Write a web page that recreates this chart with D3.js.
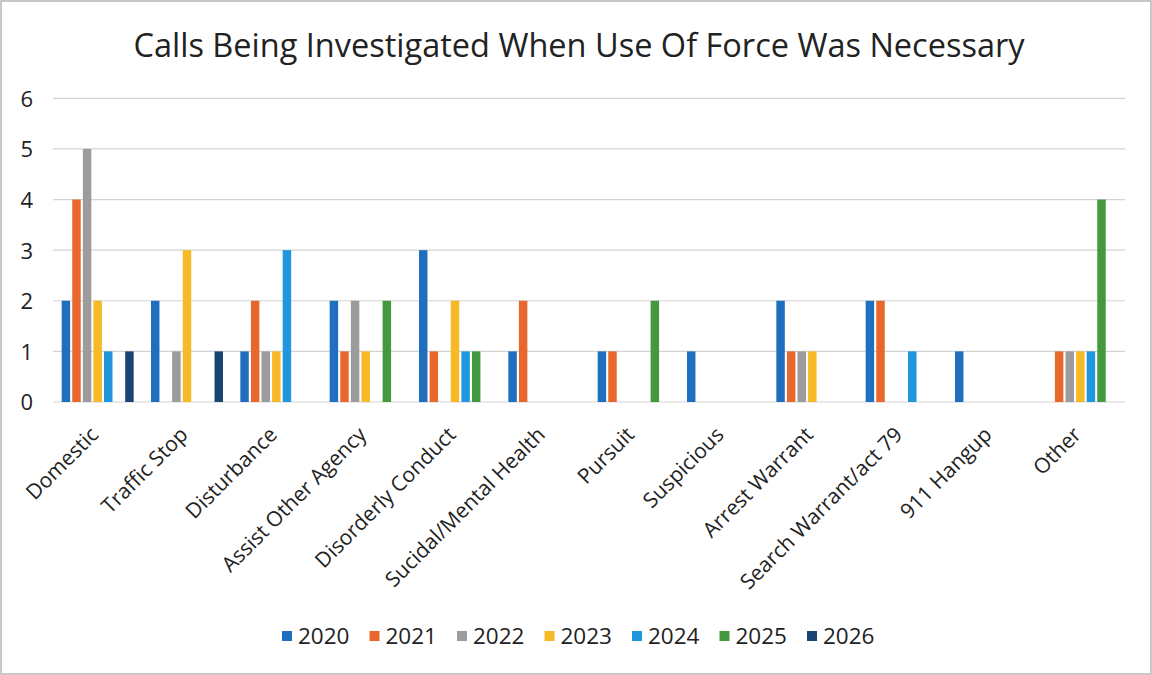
<!DOCTYPE html>
<html><head><meta charset="utf-8">
<script src="https://cdn.jsdelivr.net/npm/d3@7"></script>
<style>body{margin:0;background:#fff}svg{display:block}</style>
</head><body>
<script>
const categories = ["Domestic","Traffic Stop","Disturbance","Assist Other Agency","Disorderly Conduct","Sucidal/Mental Health","Pursuit","Suspicious","Arrest Warrant","Search Warrant/act 79","911 Hangup","Other"];
const years = ["2020","2021","2022","2023","2024","2025","2026"];
const v2020 = [2,2,1,2,3,1,1,1,2,2,1,0];
const v2021 = [4,0,2,1,1,2,1,0,1,2,0,1];
const v2022 = [5,1,1,2,0,0,0,0,1,0,0,1];
const v2023 = [2,3,1,1,2,0,0,0,1,0,0,1];
const v2024 = [1,0,3,0,1,0,0,0,0,1,0,1];
const v2025 = [0,0,0,2,1,0,2,0,0,0,0,4];
const v2026 = [1,1,0,0,0,0,0,0,0,0,0,0];
const yTicks = [0,1,2,3,4,5,6];
const colors = ["#1f6fc0","#e8672d","#9c9c9c","#f7b925","#1f96de","#44993f","#1a4474"];
const title = "Calls Being Investigated When Use Of Force Was Necessary";

(function(){
const series = [v2020,v2021,v2022,v2023,v2024,v2025,v2026];
const W = 1152, H = 675;
const svg = d3.select("body").append("svg").attr("width",W).attr("height",H);
const font = "'Open Sans', sans-serif";

svg.append("rect").attr("x",1).attr("y",1).attr("width",W-2).attr("height",H-2)
  .attr("fill","#fff").attr("stroke","#c8c8c8").attr("stroke-width",2);

const pl = 53, pr = 1125, pt = 98.3, pb = 402;
const x = d3.scaleBand().domain(categories).range([pl,pr]).paddingInner(0.194).paddingOuter(0.097);
const xs = d3.scaleBand().domain(years).range([0,x.bandwidth()]).paddingInner(0.2);
const y = d3.scaleLinear().domain([0,6]).range([pb,pt]);

svg.append("g").selectAll("line").data(yTicks).join("line")
  .attr("x1",pl).attr("x2",pr)
  .attr("y1",d=>y(d)).attr("y2",d=>y(d))
  .attr("stroke","#d3d3d3").attr("stroke-width",1.2);

const yAxis = d3.axisLeft(y).tickValues(yTicks).tickSize(0).tickPadding(0).tickFormat(d3.format("d"));
const ya = svg.append("g").attr("transform",`translate(33,0)`).call(yAxis);
ya.select(".domain").remove();
ya.selectAll("text").attr("font-family",font).attr("font-size",22).attr("fill","#222").attr("dy","0.36em");

const groups = svg.append("g").selectAll("g").data(categories).join("g")
  .attr("transform",d=>`translate(${x(d)},0)`);
groups.selectAll("rect").data((c,i)=>years.map((yr,j)=>({yr,j,v:series[j][i]})).filter(d=>d.v>0))
  .join("rect")
  .attr("x",d=>xs(d.yr)).attr("width",xs.bandwidth())
  .attr("y",d=>y(d.v)).attr("height",d=>y(0)-y(d.v))
  .attr("fill",d=>colors[d.j]);

const xAxis = d3.axisBottom(x).tickSize(0).tickPadding(0);
const xa = svg.append("g").attr("transform",`translate(0,${pb})`).call(xAxis);
xa.select(".domain").remove();
xa.selectAll("text").attr("font-family",font).attr("font-size",21).attr("fill","#222")
  .attr("text-anchor","end").attr("dy",0)
  .attr("transform","translate(2,34) rotate(-45)");

svg.append("text").attr("x",579).attr("y",57).attr("text-anchor","middle")
  .attr("font-family",font).attr("font-size",32.5).attr("fill","#222").text(title);

const lg = svg.append("g").selectAll("g").data(years).join("g")
  .attr("transform",(d,i)=>`translate(${282+i*87.5},636)`);
lg.append("rect").attr("x",0).attr("y",-5).attr("width",10).attr("height",10).attr("fill",(d,i)=>colors[i]);
lg.append("text").attr("x",16).attr("y",0).attr("dy","0.36em")
  .attr("font-family",font).attr("font-size",22.5).attr("fill","#222").text(d=>d);
})();
</script>
</body></html>
